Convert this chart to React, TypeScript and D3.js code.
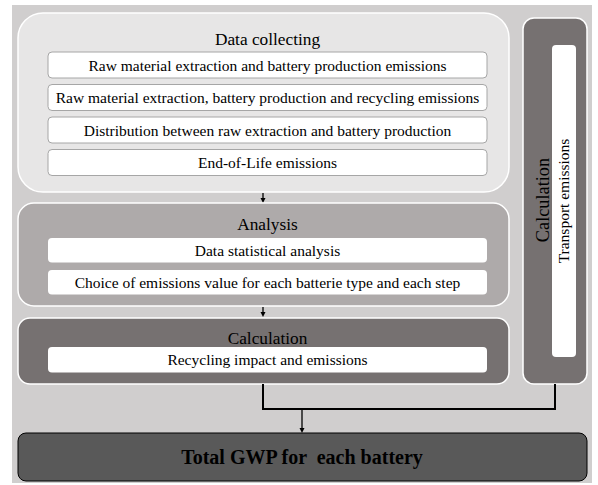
import React from "react";
import * as d3 from "d3";

const dataItems = [
  "Raw material extraction and battery production emissions",
  "Raw material extraction, battery production and recycling emissions",
  "Distribution between raw extraction and battery production",
  "End-of-Life emissions",
];
const analysisItems = [
  "Data statistical analysis",
  "Choice of emissions value for each batterie type and each step",
];
const calcItems = ["Recycling impact and emissions"];
const titles = ["Data collecting", "Analysis", "Calculation"];
const sideTitle = "Calculation";
const sideItem = "Transport emissions";
const totalLabel = "Total GWP for  each battery";

const FONT = "'Liberation Serif', 'Times New Roman', serif";

export default function App() {
  const W = 598, H = 485;
  const innerX = 48, innerW = 439;
  const boxX = 18, boxW = 491;
  const yData = d3.scaleLinear().domain([0, 1]).range([52, 84.5]);
  const yAna = d3.scaleLinear().domain([0, 1]).range([238, 270]);
  const line = d3.line();

  const arrow = (x: number, y1: number, y2: number, key: string) => (
    <g key={key}>
      <path d={line([[x, y1], [x, y2 - 4]]) || ""} stroke="#000" strokeWidth={1.3} fill="none" />
      <path d={`M${x - 2.5},${y2 - 5} L${x + 2.5},${y2 - 5} L${x},${y2} Z`} fill="#000" />
    </g>
  );

  return (
    <svg width={W} height={H} style={{ position: "absolute", left: 0, top: 0, background: "#fff" }} fontFamily={FONT}>
      <rect x={12} y={5} width={580} height={478} fill="#D0CECE" />

      {/* Data collecting */}
      <rect x={boxX} y={13} width={boxW} height={179} rx={25} fill="#E7E6E6" stroke="#fff" strokeWidth={1.5} />
      <text x={267.5} y={45} textAnchor="middle" fontSize={17.3} fill="#000">{titles[0]}</text>
      {dataItems.map((t, i) => (
        <g key={t}>
          <rect x={innerX} y={yData(i)} width={innerW} height={26} rx={4} fill="#fff" stroke="#A6A6A6" strokeWidth={1} />
          <text x={innerX + innerW / 2} y={yData(i) + 18.5} textAnchor="middle" fontSize={15.5} fill="#000">{t}</text>
        </g>
      ))}

      {arrow(263, 193, 203, "a1")}

      {/* Analysis */}
      <rect x={boxX} y={203} width={boxW} height={103} rx={16} fill="#AEAAAA" stroke="#fff" strokeWidth={1.5} />
      <text x={267.5} y={230} textAnchor="middle" fontSize={17.3} fill="#000">{titles[1]}</text>
      {analysisItems.map((t, i) => (
        <g key={t}>
          <rect x={innerX} y={yAna(i)} width={innerW} height={24.5} rx={4} fill="#fff" />
          <text x={innerX + innerW / 2} y={yAna(i) + 17.5} textAnchor="middle" fontSize={15.5} fill="#000">{t}</text>
        </g>
      ))}

      {arrow(263, 307, 317, "a2")}

      {/* Calculation */}
      <rect x={boxX} y={318} width={boxW} height={66} rx={12} fill="#767171" stroke="#fff" strokeWidth={1.5} />
      <text x={267.5} y={344} textAnchor="middle" fontSize={17.3} fill="#000">{titles[2]}</text>
      {calcItems.map((t) => (
        <g key={t}>
          <rect x={innerX} y={347} width={innerW} height={25.5} rx={4} fill="#fff" />
          <text x={innerX + innerW / 2} y={365} textAnchor="middle" fontSize={15.5} fill="#000">{t}</text>
        </g>
      ))}

      {/* Side calculation */}
      <rect x={523} y={18} width={64} height={366} rx={11} fill="#767171" stroke="#fff" strokeWidth={1.5} />
      <rect x={552} y={45} width={24} height={312} rx={4} fill="#fff" />
      <text transform="translate(548.5,200) rotate(-90)" textAnchor="middle" fontSize={18.3} fill="#000">{sideTitle}</text>
      <text transform="translate(568.5,201) rotate(-90)" textAnchor="middle" fontSize={15.5} fill="#000">{sideItem}</text>

      {/* connectors */}
      <path d={line([[263, 384], [263, 409], [555, 409], [555, 384]]) || ""} stroke="#000" strokeWidth={2} fill="none" />
      {arrow(302, 409, 433, "a3")}

      {/* Total */}
      <rect x={18} y={433} width={569} height={48} rx={8} fill="#595959" stroke="#000" strokeWidth={1} />
      <text x={302} y={464} textAnchor="middle" fontSize={20} fontWeight="bold" fill="#000" style={{ whiteSpace: "pre" }}>{totalLabel}</text>
    </svg>
  );
}
